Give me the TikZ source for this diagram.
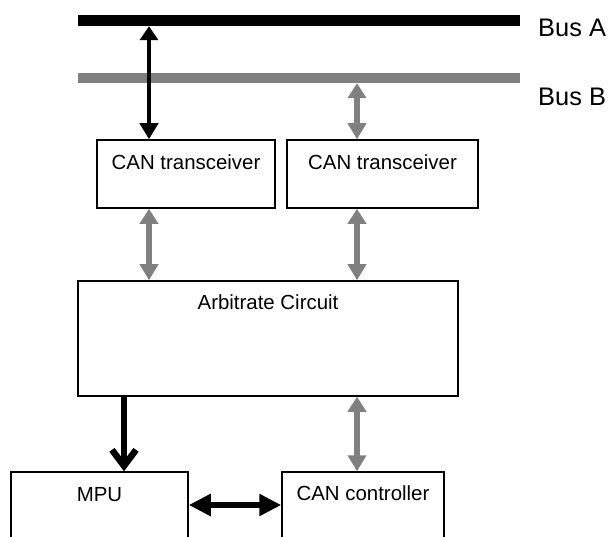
\documentclass[tikz,border=0pt]{standalone}
\usepackage{fontspec}
\setmainfont{Liberation Sans}
\usetikzlibrary{arrows.meta}
\definecolor{bus-gray}{RGB}{128,128,128}
\tikzstyle{unit}=[draw, line width=1.5bp, minimum height=68bp, inner sep=0pt]
\tikzstyle{unittext}=[font=\fontsize{20.5}{24}\selectfont, inner sep=0pt, anchor=north]
\tikzstyle{buslabel}=[font=\fontsize{25.5}{29}\selectfont, inner sep=0pt, anchor=west]
\tikzstyle{busline}=[fill, inner sep=0pt, minimum width=442bp]
\tikzstyle{blacklink}=[line width=4.3bp, {Triangle[width=18bp,length=14bp]}-{Triangle[width=18bp,length=16bp]}]
\tikzstyle{graylink}=[bus-gray, line width=5.5bp, {Triangle[width=18bp,length=15bp]}-{Triangle[width=18bp,length=16bp]}]
\tikzstyle{downlink}=[line width=6.5bp, -{Straight Barb[width=24bp,length=16bp]}]
\tikzstyle{sidelink}=[line width=6.5bp, {Triangle[width=21bp,length=22bp]}-{Triangle[width=21bp,length=22bp]}]
\begin{document}
\begin{tikzpicture}[x=1bp, y=-1bp]
	\clip (0,0) rectangle (610,537);
	% the two buses
	\node[busline, minimum height=11bp] (busA) at (299,20.5) {};
	\node[busline, bus-gray, minimum height=10bp] (busB) at (299,78) {};
	\node[buslabel] (labA) at (538,28) {Bus A};
	\node[buslabel] (labB) at (538,97) {Bus B};
	% boxes
	\node[unit, minimum width=178bp, label={[unittext, yshift=-15bp]north:CAN transceiver}] (tr1) at (186,174) {};
	\node[unit, minimum width=191bp, label={[unittext, yshift=-15bp]north:CAN transceiver}] (tr2) at (382.5,174) {};
	\node[unit, minimum width=380bp, minimum height=115bp, label={[unittext, yshift=-14bp]north:Arbitrate Circuit}] (arb) at (268,338.5) {};
	\node[unit, minimum width=177bp, minimum height=90bp, label={[unittext, yshift=-16bp]north:MPU}] (mpu) at (99.5,517) {};
	\node[unit, minimum width=162bp, minimum height=90bp, label={[unittext, yshift=-14bp]north:CAN controller}] (ctl) at (363,517) {};
	% columns of the links
	\coordinate (xl) at (149,0);
	\coordinate (xr) at (357,0);
	\coordinate (xm) at (124,0);
	\coordinate (yh) at (0,505);
	% links
	\draw[blacklink] (xl |- busA.south) -- (xl |- tr1.north);
	\draw[graylink] (xr |- busB.south) -- (xr |- tr2.north);
	\draw[graylink] (xl |- tr1.south) -- (xl |- arb.north);
	\draw[graylink] (xr |- tr2.south) -- (xr |- arb.north);
	\draw[graylink] (xr |- arb.south) -- (xr |- ctl.north);
	\draw[downlink] (xm |- arb.south) -- (xm |- mpu.north);
	\draw[sidelink] (mpu.east |- yh) -- (ctl.west |- yh);
\end{tikzpicture}
\end{document}
